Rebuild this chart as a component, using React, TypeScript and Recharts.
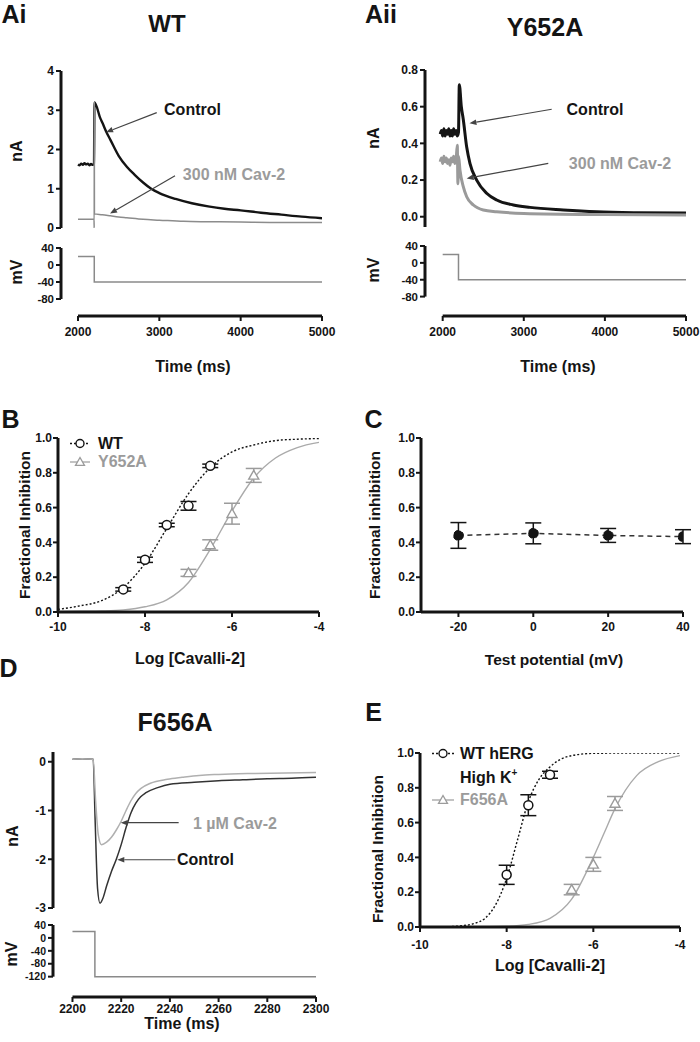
import React from "react";
import { ComposedChart, Line, XAxis, YAxis, ReferenceLine, ErrorBar } from "recharts";

const FONT = '"Liberation Sans", Arial, Helvetica, sans-serif';
const INK = "#141414";
const GREY = "#9b9b9b";
const PAD = 10;
const PAD_R = 30;

type Pt = [number, number];

// ---- Ai  WT : [time ms, nA] / [time ms, mV]
const aiControl: Pt[] = [
  [2000, 1.62], [2020, 1.6], [2040, 1.64], [2060, 1.61], [2080, 1.65], [2100, 1.62], [2120, 1.64],
  [2140, 1.6], [2160, 1.63], [2180, 1.61], [2197, 1.63], [2202, 3.2], [2274, 2.8], [2300, 2.68],
  [2350, 2.44], [2400, 2.24], [2500, 1.84], [2600, 1.56], [2700, 1.35], [2800, 1.16], [2900, 1.0],
  [3000, 0.89], [3200, 0.74], [3400, 0.63], [3600, 0.55], [3800, 0.49], [4000, 0.45], [4250, 0.39],
  [4500, 0.34], [4750, 0.29], [5000, 0.25],
];
const aiCav2: Pt[] = [
  [2000, 0.22], [2100, 0.22], [2197, 0.22], [2199, 0.0], [2200.5, 3.2], [2202, 0.36], [2300, 0.34],
  [2400, 0.31], [2500, 0.28], [2600, 0.26], [2800, 0.22], [3000, 0.2], [3300, 0.17], [3600, 0.16],
  [4000, 0.15], [4500, 0.14], [5000, 0.14],
];
const aiStep: Pt[] = [[2000, 20], [2200, 20], [2200, -40], [5000, -40]];

// ---- Aii  Y652A
const aiiControl: Pt[] = [
  [1970, 0.45], [1985, 0.47], [2000, 0.44], [2015, 0.48], [2030, 0.44], [2045, 0.47], [2060, 0.45],
  [2075, 0.48], [2090, 0.44], [2105, 0.47], [2120, 0.44], [2135, 0.48], [2150, 0.45], [2165, 0.47],
  [2180, 0.44], [2195, 0.46], [2205, 0.72], [2230, 0.6], [2254, 0.53], [2296, 0.38], [2337, 0.29],
  [2419, 0.2], [2542, 0.128], [2666, 0.091], [2871, 0.064], [3076, 0.051], [3487, 0.037],
  [3899, 0.027], [4400, 0.022], [5000, 0.02],
];
const aiiCav2: Pt[] = [
  [1970, 0.3], [1985, 0.32], [2000, 0.29], [2015, 0.33], [2030, 0.3], [2045, 0.32], [2060, 0.29],
  [2075, 0.31], [2090, 0.28], [2105, 0.32], [2120, 0.3], [2135, 0.33], [2150, 0.29], [2165, 0.31],
  [2180, 0.39], [2188, 0.18], [2196, 0.33], [2213, 0.255], [2254, 0.164], [2296, 0.109],
  [2378, 0.064], [2501, 0.037], [2666, 0.027], [3000, 0.018], [4000, 0.012], [5000, 0.01],
];
const aiiStep: Pt[] = [[2000, 20], [2195, 20], [2195, -40], [5000, -40]];

// ---- D  F656A
const dControl: Pt[] = [
  [2200, 0.05], [2204, 0.06], [2208.5, 0.05], [2209.3, -1.2], [2210.3, -2.6], [2211.3, -2.9],
  [2212.5, -2.8], [2214, -2.55], [2216, -2.25], [2218, -2.0], [2220, -1.7], [2222, -1.35],
  [2224, -1.05], [2226, -0.85], [2228, -0.72], [2230, -0.64], [2235, -0.53], [2240, -0.46],
  [2250, -0.42], [2260, -0.39], [2270, -0.37], [2280, -0.35], [2290, -0.34], [2300, -0.32],
];
const dCav2: Pt[] = [
  [2200, 0.05], [2204, 0.06], [2208.5, 0.05], [2209.5, -0.8], [2210.6, -1.5], [2211.9, -1.7],
  [2214, -1.65], [2216, -1.55], [2218, -1.4], [2220, -1.22], [2222, -1.0], [2224, -0.8],
  [2226, -0.65], [2228, -0.55], [2232, -0.44], [2239, -0.36], [2245, -0.32], [2252, -0.28],
  [2260, -0.26], [2275, -0.24], [2300, -0.22],
];
const dStep: Pt[] = [[2200, 20], [2209.2, 20], [2209.2, -120], [2300, -120]];

// ---- ticks
const timeTicksA = [2000, 3000, 4000, 5000];
const timeTicksD = [2200, 2220, 2240, 2260, 2280, 2300];
const nATicksAi = [0, 1, 2, 3, 4];
const nATicksAii = [0, 0.2, 0.4, 0.6, 0.8];
const nATicksD = [-3, -2, -1, 0];
const mVTicks = [40, 0, -40, -80];
const mVTicksD = [40, 0, -40, -80, -120];
const fracTicks = [0, 0.2, 0.4, 0.6, 0.8, 1];
const logTicks = [-10, -8, -6, -4];
const potTicks = [-20, 0, 20, 40];

// ---- B  concentration-response (log M, fraction, sem)
const bWtLog = [-8.5, -8, -7.5, -7, -6.5];
const bWtMean = [0.13, 0.3, 0.5, 0.61, 0.84];
const bWtSem = [0.01, 0.015, 0.01, 0.025, 0.01];
const bMutLog = [-7, -6.5, -6, -5.5];
const bMutMean = [0.225, 0.385, 0.565, 0.785];
const bMutSem = [0.02, 0.03, 0.06, 0.04];
const bFitLog = [-10, -9.5, -9, -8.5, -8, -7.5, -7, -6.5, -6, -5.5, -5, -4.5, -4];
const bWtFit = [0.015, 0.035, 0.065, 0.14, 0.28, 0.48, 0.68, 0.83, 0.92, 0.96, 0.985, 0.993, 0.997];
const bMutFit = [0.002, 0.004, 0.006, 0.012, 0.03, 0.07, 0.17, 0.36, 0.58, 0.77, 0.885, 0.945, 0.975];

// ---- C  voltage dependence
const cPot = [-20, 0, 20, 40];
const cMean = [0.44, 0.452, 0.44, 0.433];
const cSem = [0.074, 0.06, 0.04, 0.04];

// ---- E  high K+
const eWtLog = [-8, -7.5, -7];
const eWtMean = [0.3, 0.7, 0.875];
const eWtSem = [0.055, 0.06, 0.02];
const eMutLog = [-6.5, -6, -5.5];
const eMutMean = [0.215, 0.36, 0.71];
const eMutSem = [0.03, 0.04, 0.04];
const eWtFitLog = [-10, -9.5, -9, -8.75, -8.5, -8.25, -8, -7.75, -7.5, -7.25, -7, -6.75, -6.5, -6, -5, -4];
const eWtFit = [0, 0.001, 0.008, 0.02, 0.05, 0.13, 0.28, 0.5, 0.72, 0.85, 0.92, 0.965, 0.985, 0.998, 1, 1];
const eMutFitLog = [-10, -9, -8, -7.5, -7, -6.5, -6, -5.75, -5.5, -5, -4.5, -4];
const eMutFit = [0, 0.001, 0.005, 0.015, 0.05, 0.16, 0.4, 0.54, 0.68, 0.87, 0.95, 0.985];

// ---- annotation arrows [fromX, fromY, tipX, tipY] in data units
const aiArrows = [[2968, 2.94, 2345, 2.44], [3193, 1.33, 2394, 0.37]];
const aiiArrows = [[3344, 0.586, 2330, 0.509], [3302, 0.291, 2296, 0.209]];
const dArrows = [[2243.6, -1.25, 2219.8, -1.25], [2242.3, -2.01, 2218.4, -2.01]];

const toTV = (a: Pt[]) => a.map(([t, v]) => ({ t, v }));
const zip = (x: number[], y: number[], e?: number[]) =>
  x.map((xv, i) => ({ x: xv, y: y[i], e: e ? e[i] : 0 }));

const AXIS = { stroke: INK, strokeWidth: 3 };
const TICKLINE = { stroke: INK, strokeWidth: 2 };
const TICK = { fill: INK, fontSize: 12, fontWeight: 700, fontFamily: FONT };

type Box = { l: number; t: number; r: number; b: number };

const triPoints = (cx: number, cy: number, s = 5) =>
  `${cx},${cy - s} ${cx - s},${cy + s * 0.75} ${cx + s},${cy + s * 0.75}`;

const arrowShape = (p: any) => {
  const { x1, y1, x2, y2 } = p;
  const a = Math.atan2(y2 - y1, x2 - x1);
  const L = 7;
  const W = 2.8;
  const bx = x2 - L * Math.cos(a);
  const by = y2 - L * Math.sin(a);
  const px = -Math.sin(a) * W;
  const py = Math.cos(a) * W;
  return (
    <g>
      <line x1={x1} y1={y1} x2={bx} y2={by} stroke="#444" strokeWidth={1.2} />
      <polygon points={`${x2},${y2} ${bx + px},${by + py} ${bx - px},${by - py}`} fill="#444" />
    </g>
  );
};

type Trace = { data: Pt[]; color: string; width: number };

function TraceChart({ box, xDomain, yDomain, yTicks, yFmt, traces, arrows }: {
  box: Box; xDomain: number[]; yDomain: number[]; yTicks: number[];
  yFmt?: (v: number) => string; traces: Trace[]; arrows: number[][];
}) {
  const YW = 40;
  return (
    <div style={{ position: "absolute", left: box.l - YW, top: box.t - PAD }}>
      <ComposedChart width={box.r - box.l + YW + PAD_R} height={box.b - box.t + 2 * PAD}
        margin={{ top: PAD, right: PAD_R, bottom: PAD, left: 0 }}>
        <XAxis type="number" dataKey="t" domain={xDomain} allowDataOverflow hide />
        <YAxis type="number" domain={yDomain} ticks={yTicks} allowDataOverflow interval={0} width={YW}
          tickFormatter={yFmt} axisLine={AXIS} tickLine={TICKLINE} tickSize={5} tickMargin={2} tick={TICK} />
        {traces.map((tr, i) => (
          <Line key={i} data={toTV(tr.data)} dataKey="v" type="monotone" stroke={tr.color}
            strokeWidth={tr.width} dot={false} activeDot={false} isAnimationActive={false} />
        ))}
        {arrows.map((a, i) => (
          <ReferenceLine key={"ar" + i} segment={[{ x: a[0], y: a[1] }, { x: a[2], y: a[3] }]}
            ifOverflow="visible" shape={arrowShape} />
        ))}
      </ComposedChart>
    </div>
  );
}

function VoltChart({ box, xDomain, yDomain, yTicks, xTicks, data, xTickMargin, yTickSize = 11.5 }: {
  box: Box; xDomain: number[]; yDomain: number[]; yTicks: number[]; xTicks: number[];
  data: Pt[]; xTickMargin: number; yTickSize?: number;
}) {
  const YW = 40;
  const XH = 30;
  return (
    <div style={{ position: "absolute", left: box.l - YW, top: box.t - PAD }}>
      <ComposedChart width={box.r - box.l + YW + PAD_R} height={box.b - box.t + XH + 2 * PAD}
        margin={{ top: PAD, right: PAD_R, bottom: PAD, left: 0 }}>
        <XAxis type="number" dataKey="t" domain={xDomain} ticks={xTicks} allowDataOverflow interval={0}
          height={XH} axisLine={false} tickLine={TICKLINE} tickSize={5} tickMargin={xTickMargin} tick={TICK} />
        <YAxis type="number" domain={yDomain} ticks={yTicks} allowDataOverflow interval={0} width={YW}
          axisLine={false} tickLine={TICKLINE} tickSize={5} tickMargin={2} tick={{ ...TICK, fontSize: yTickSize }} />
        <Line data={toTV(data)} dataKey="v" type="linear" stroke="#8a8a8a" strokeWidth={1.5}
          dot={false} activeDot={false} isAnimationActive={false} />
        <ReferenceLine segment={[{ x: xDomain[0], y: yTicks[yTicks.length - 1] }, { x: xDomain[0], y: yTicks[0] }]}
          stroke={INK} strokeWidth={3} ifOverflow="visible" />
        <ReferenceLine segment={[{ x: xTicks[0], y: yDomain[0] }, { x: xTicks[xTicks.length - 1], y: yDomain[0] }]}
          stroke={INK} strokeWidth={3} ifOverflow="visible" />
      </ComposedChart>
    </div>
  );
}

type Curve = { data: { x: number; y: number }[]; color: string; dash?: string };
type Pts = { data: { x: number; y: number; e: number }[]; color: string; dot: any; line?: string; dash?: string };

function DoseChart({ box, xDomain, xTicks, xTickMargin, curves, points }: {
  box: Box; xDomain: number[]; xTicks: number[]; xTickMargin: number; curves: Curve[]; points: Pts[];
}) {
  const YW = 40;
  const XH = 30;
  return (
    <div style={{ position: "absolute", left: box.l - YW, top: box.t - PAD }}>
      <ComposedChart width={box.r - box.l + YW + PAD_R} height={box.b - box.t + XH + 2 * PAD}
        margin={{ top: PAD, right: PAD_R, bottom: PAD, left: 0 }}>
        <XAxis type="number" dataKey="x" domain={xDomain} ticks={xTicks} allowDataOverflow interval={0}
          height={XH} axisLine={AXIS} tickLine={TICKLINE} tickSize={5} tickMargin={xTickMargin} tick={TICK} />
        <YAxis type="number" domain={[0, 1]} ticks={fracTicks} allowDataOverflow interval={0} width={YW}
          tickFormatter={(v: number) => v.toFixed(1)} axisLine={AXIS} tickLine={TICKLINE} tickSize={5}
          tickMargin={1} tick={TICK} />
        {curves.map((c, i) => (
          <Line key={"c" + i} data={c.data} dataKey="y" type="monotone" stroke={c.color} strokeWidth={1.4}
            strokeDasharray={c.dash} dot={false} activeDot={false} isAnimationActive={false} />
        ))}
        {points.map((p, i) => (
          <Line key={"p" + i} data={p.data} dataKey="y" type="linear" stroke={p.line ?? "none"}
            strokeWidth={1.5} strokeDasharray={p.dash} dot={p.dot} activeDot={false} isAnimationActive={false}>
            <ErrorBar dataKey="e" width={8} stroke={p.color} strokeWidth={1.5} direction="y" />
          </Line>
        ))}
      </ComposedChart>
    </div>
  );
}

const openCircle = { r: 4.5, fill: "#fff", stroke: INK, strokeWidth: 1.5 };
const filledCircle = { r: 5, fill: INK, stroke: INK, strokeWidth: 1 };
const openTri = (p: any) => (
  <polygon key={"tri" + p.index} points={triPoints(p.cx, p.cy)} fill="#fff" stroke={GREY} strokeWidth={1.4} />
);

function T({ x, y, s = 16, c = INK, rot = 0, left = false, children }: {
  x: number; y: number; s?: number; c?: string; rot?: number; left?: boolean; children: React.ReactNode;
}) {
  return (
    <div style={{
      position: "absolute", left: x, top: y, fontSize: s, fontWeight: 700, color: c,
      whiteSpace: "nowrap", lineHeight: 1,
      transform: `translate(${left ? 0 : -50}%, -50%) rotate(${rot}deg)`,
    }}>{children}</div>
  );
}

const fmt1 = (v: number) => v.toFixed(1);

export default function App() {
  return (
    <div style={{
      position: "absolute", left: 0, top: 0, width: 700, height: 1042, background: "#fff",
      fontFamily: FONT, color: INK, overflow: "hidden",
    }}>
      {/* Ai */}
      <TraceChart box={{ l: 61, t: 71, r: 322, b: 228 }} xDomain={[1791, 5000]} yDomain={[0, 4]} yTicks={nATicksAi}
        traces={[{ data: aiControl, color: INK, width: 2.4 }, { data: aiCav2, color: "#8c8c8c", width: 1.5 }]}
        arrows={aiArrows} />
      <VoltChart box={{ l: 61, t: 248, r: 322, b: 316 }} xDomain={[1791, 5000]} yDomain={[-120, 40]}
        yTicks={mVTicks} xTicks={timeTicksA} data={aiStep} xTickMargin={6} />

      {/* Aii */}
      <TraceChart box={{ l: 425, t: 70, r: 686, b: 227 }} xDomain={[1782, 5000]} yDomain={[-0.056, 0.8]}
        yTicks={nATicksAii} yFmt={fmt1}
        traces={[{ data: aiiControl, color: INK, width: 3 }, { data: aiiCav2, color: "#9a9a9a", width: 3 }]}
        arrows={aiiArrows} />
      <VoltChart box={{ l: 425, t: 246, r: 686, b: 316 }} xDomain={[1782, 5000]} yDomain={[-126, 40]}
        yTicks={mVTicks} xTicks={timeTicksA} data={aiiStep} xTickMargin={6} />

      {/* B */}
      <DoseChart box={{ l: 58, t: 438, r: 319, b: 612 }} xDomain={[-10, -4]} xTicks={logTicks} xTickMargin={5}
        curves={[
          { data: zip(bFitLog, bWtFit), color: INK, dash: "2 2" },
          { data: zip(bFitLog, bMutFit), color: "#aaa" },
        ]}
        points={[
          { data: zip(bWtLog, bWtMean, bWtSem), color: INK, dot: openCircle },
          { data: zip(bMutLog, bMutMean, bMutSem), color: GREY, dot: openTri },
        ]} />

      {/* C */}
      <DoseChart box={{ l: 421, t: 438, r: 683, b: 612 }} xDomain={[-30, 40]} xTicks={potTicks} xTickMargin={5}
        curves={[]}
        points={[{ data: zip(cPot, cMean, cSem), color: INK, dot: filledCircle, line: "#333", dash: "5 4" }]} />

      {/* D */}
      <TraceChart box={{ l: 53, t: 752, r: 316, b: 908 }} xDomain={[2192, 2300]} yDomain={[-3, 0.2]}
        yTicks={nATicksD}
        traces={[{ data: dControl, color: "#333", width: 1.5 }, { data: dCav2, color: "#b0b0b0", width: 1.5 }]}
        arrows={dArrows} />
      <VoltChart box={{ l: 53, t: 925, r: 316, b: 997 }} xDomain={[2192, 2300]} yDomain={[-183, 40]}
        yTicks={mVTicksD} xTicks={timeTicksD} data={dStep} xTickMargin={2} yTickSize={10.5} />

      {/* E */}
      <DoseChart box={{ l: 420, t: 753, r: 680, b: 927 }} xDomain={[-10, -4]} xTicks={logTicks} xTickMargin={8}
        curves={[
          { data: zip(eWtFitLog, eWtFit), color: INK, dash: "2 2" },
          { data: zip(eMutFitLog, eMutFit), color: "#aaa" },
        ]}
        points={[
          { data: zip(eWtLog, eWtMean, eWtSem), color: INK, dot: openCircle },
          { data: zip(eMutLog, eMutMean, eMutSem), color: GREY, dot: openTri },
        ]} />

      {/* legend glyphs */}
      <svg width={700} height={1042} style={{ position: "absolute", left: 0, top: 0, pointerEvents: "none" }}>
        <line x1={70} y1={443.5} x2={90} y2={443.5} stroke={INK} strokeWidth={1.4} strokeDasharray="2 2" />
        <circle cx={80} cy={443.5} r={4} fill="#fff" stroke={INK} strokeWidth={1.4} />
        <line x1={70} y1={462} x2={90} y2={462} stroke="#aaa" strokeWidth={1.4} />
        <polygon points={triPoints(80, 462, 4.5)} fill="#fff" stroke={GREY} strokeWidth={1.3} />
        <line x1={432} y1={753.5} x2={454} y2={753.5} stroke={INK} strokeWidth={1.4} strokeDasharray="2 2" />
        <circle cx={443} cy={753.5} r={4} fill="#fff" stroke={INK} strokeWidth={1.4} />
        <line x1={432} y1={800} x2={454} y2={800} stroke="#aaa" strokeWidth={1.4} />
        <polygon points={triPoints(443, 800, 4.5)} fill="#fff" stroke={GREY} strokeWidth={1.3} />
      </svg>

      {/* panel letters & titles */}
      <T x={14} y={14} s={25}>Ai</T>
      <T x={381} y={14} s={25}>Aii</T>
      <T x={167} y={24} s={24}>WT</T>
      <T x={545} y={27} s={25}>Y652A</T>
      <T x={10.5} y={418.5} s={25}>B</T>
      <T x={373.5} y={418.5} s={25}>C</T>
      <T x={8.5} y={668} s={25}>D</T>
      <T x={175} y={722} s={25}>F656A</T>
      <T x={373.5} y={711.5} s={25}>E</T>

      {/* axis titles */}
      <T x={16.5} y={151} s={16} rot={-90}>nA</T>
      <T x={16.5} y={272} s={16} rot={-90}>mV</T>
      <T x={374} y={137.5} s={16} rot={-90}>nA</T>
      <T x={374} y={270} s={16} rot={-90}>mV</T>
      <T x={193} y={367} s={16}>Time (ms)</T>
      <T x={558} y={367} s={16}>Time (ms)</T>
      <T x={25} y={525} s={15.5} rot={-90}>Fractional Inhibition</T>
      <T x={375} y={525} s={15.5} rot={-90}>Fractional inhibition</T>
      <T x={190} y={659} s={16}>Log [Cavalli-2]</T>
      <T x={554} y={660} s={15.5}>Test potential (mV)</T>
      <T x={12.5} y={836} s={16} rot={-90}>nA</T>
      <T x={12} y={954} s={16} rot={-90}>mV</T>
      <T x={182} y={1024} s={16}>Time (ms)</T>
      <T x={377.5} y={849} s={15.5} rot={-90}>Fractional Inhibition</T>
      <T x={550} y={965.5} s={16}>Log [Cavalli-2]</T>

      {/* trace annotations */}
      <T x={192.5} y={110} s={16}>Control</T>
      <T x={234} y={174.5} s={16} c={GREY}>300 nM Cav-2</T>
      <T x={595} y={110} s={16}>Control</T>
      <T x={620} y={163.5} s={16} c={GREY}>300 nM Cav-2</T>
      <T x={193} y={824} s={16} c={GREY} left>1 µM Cav-2</T>
      <T x={177} y={860} s={16} left>Control</T>

      {/* legends */}
      <T x={98} y={443.5} s={16} left>WT</T>
      <T x={98} y={462} s={16} c={GREY} left>Y652A</T>
      <T x={460} y={753.5} s={16} left>WT hERG</T>
      <T x={460} y={777} s={16} left>High K<sup style={{ fontSize: 10 }}>+</sup></T>
      <T x={460} y={800} s={16} c={GREY} left>F656A</T>
    </div>
  );
}
